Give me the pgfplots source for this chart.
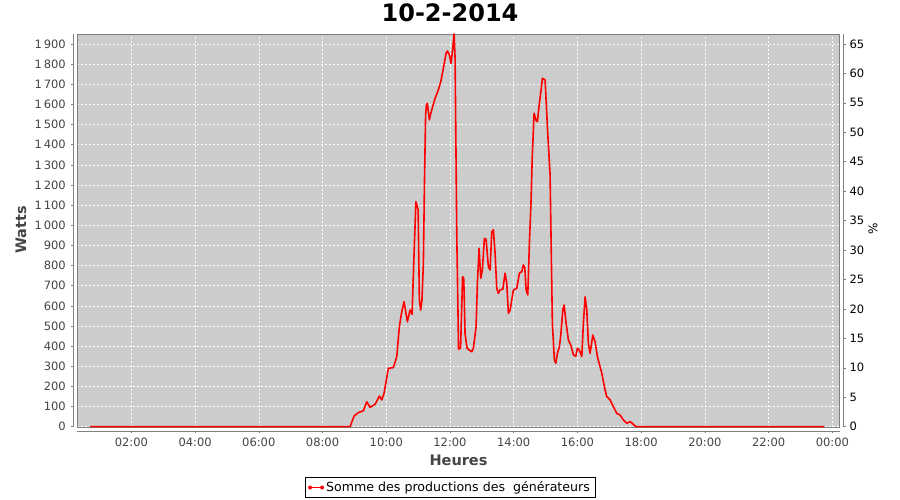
\documentclass[border=0pt]{standalone}
\usepackage{pgfplots}
\pgfplotsset{compat=1.18}
\usepackage{fontspec}
\setmainfont{DejaVu Sans}
\definecolor{plotbg}{RGB}{204,204,204}
\definecolor{axisgray}{RGB}{128,128,128}
\definecolor{ticklab}{RGB}{68,68,68}
\newcommand{\tickfont}{\fontsize{11.5}{12}\selectfont}
\newcommand{\legfont}{\fontsize{12.6}{14}\selectfont}

\begin{document}
\begin{tikzpicture}[x=1pt,y=1pt]
\useasboundingbox (0,0) rectangle (900,500);
\begin{axis}[
  at={(77.3pt,72.7pt)}, anchor=south west,
  scale only axis, width=762.4pt, height=393.3pt,
  xmin=0.304, xmax=24.23, ymin=-3, ymax=1949.6,
  axis background/.style={fill=plotbg},
  axis line style={axisgray, line width=0.8pt},
  xtick={2,4,...,24},
  xticklabels={02:00,04:00,06:00,08:00,10:00,12:00,14:00,16:00,18:00,20:00,22:00,00:00},
  ytick={0,100,...,1900},
  xtick pos=bottom, ytick pos=left,
  grid=major,
  major grid style={white, line width=0.6pt, dash pattern=on 2pt off 2pt},
  tick align=outside, major tick length=2.5pt,
  xtick style={axisgray, line width=0.6pt, yshift=-3.7pt},
  ytick style={axisgray, line width=0.6pt, xshift=-4pt},
  xticklabel style={anchor=center, font=\tickfont, text=ticklab},
  xticklabel shift=12.2pt,
  yticklabel style={anchor=east, inner sep=0pt, font=\tickfont, text=ticklab},
  yticklabel shift=8.8pt,
  /pgf/number format/.cd, 1000 sep={\,}, assume math mode=true,
  /pgfplots/.cd,
  legend style={at={(0.4888,-0.153)}, anchor=center, draw=black, fill=white,
    font=\legfont, line width=0.6pt, inner xsep=3pt, inner ysep=2pt},
  legend cell align=left,
  legend image code/.code={
    \draw[red, line width=1.5pt] (0pt,0pt) -- (14pt,0pt);
    \fill[red] (1pt,0pt) circle (1.3pt);
    \fill[red] (13pt,0pt) circle (1.3pt);
  },
]
\addplot[red, line width=1.6pt, line join=round] coordinates {
(0.703,0) (8.864,0) (8.99,53) (9.124,70) (9.281,79) (9.388,124) (9.492,96)
(9.649,111) (9.784,152) (9.859,133) (9.931,166) (10.066,290) (10.223,293)
(10.330,348) (10.411,497) (10.487,571) (10.559,621) (10.662,521) (10.747,579)
(10.810,558) (10.873,861) (10.93,1117) (10.96,1100) (11.00,1076) (11.039,629)
(11.08,579) (11.12,629) (11.165,811) (11.20,1225) (11.235,1548) (11.26,1597)
(11.29,1605) (11.353,1523) (11.397,1556) (11.532,1630) (11.635,1672)
(11.711,1713) (11.792,1779) (11.877,1854) (11.918,1865) (11.981,1846)
(12.034,1804) (12.087,1879) (12.128,1950) (12.160,1829) (12.213,952)
(12.269,385) (12.332,390) (12.395,745) (12.432,735) (12.473,460) (12.536,389)
(12.630,378) (12.684,372) (12.734,389) (12.819,497) (12.860,712) (12.913,886)
(12.966,737) (13.016,778) (13.079,935) (13.132,930) (13.205,794) (13.258,778)
(13.311,968) (13.362,977) (13.415,861) (13.468,687) (13.518,662) (13.572,680)
(13.657,682) (13.729,762) (13.782,712) (13.833,563) (13.886,579) (13.939,629)
(13.990,679) (14.096,687) (14.178,762) (14.253,770) (14.303,803) (14.347,790)
(14.388,679) (14.441,654) (14.492,911) (14.545,1126) (14.58,1333) (14.639,1556)
(14.702,1521) (14.743,1514) (14.805,1606) (14.859,1672) (14.900,1730)
(14.985,1721) (15.057,1489) (15.141,1250) (15.213,513) (15.276,331)
(15.320,315) (15.370,364) (15.433,397) (15.477,455) (15.540,579) (15.581,604)
(15.644,513) (15.716,430) (15.791,406) (15.873,356) (15.948,350) (15.998,389)
(16.061,380) (16.136,348) (16.186,513) (16.240,645) (16.293,579) (16.343,414)
(16.397,364) (16.481,455) (16.554,422) (16.626,348) (16.764,265) (16.868,182)
(16.921,149) (17.024,133) (17.128,99) (17.235,66) (17.338,58) (17.442,33)
(17.549,17) (17.652,25) (17.756,12) (17.810,3) (17.85,0) (23.75,0)
};
\addlegendentry{Somme des productions des\ \ générateurs}
\end{axis}
\begin{axis}[
  at={(77.3pt,72.7pt)}, anchor=south west,
  scale only axis, width=762.4pt, height=393.3pt,
  xmin=0.304, xmax=24.23, ymin=-0.1026, ymax=66.697,
  hide x axis,
  axis y line*=right,
  axis line style={draw=none},
  ytick={0,5,...,65},
  tick align=outside, major tick length=2.5pt,
  ytick style={axisgray, line width=0.6pt, xshift=4pt},
  yticklabel style={anchor=west, inner sep=0pt, font=\tickfont, text=black},
  yticklabel shift=7.1pt,
  /pgf/number format/assume math mode=true,
]
\addplot[draw=none] coordinates {(1,0) (2,1)};
\end{axis}
\draw[axisgray, line width=0.8pt] (73.3,72.7) -- (73.3,466);
\draw[axisgray, line width=0.8pt] (77.3,69) -- (839.7,69);
\draw[axisgray, line width=0.8pt] (843.3,72.7) -- (843.3,466);
\node[font=\fontsize{24}{28}\selectfont\bfseries] at (450,487) {10-2-2014};
\node[font=\fontsize{14.5}{16}\selectfont\bfseries, text=ticklab, rotate=90] at (21,270) {Watts};
\node[font=\fontsize{14.5}{16}\selectfont\bfseries, text=ticklab] at (458.5,40) {Heures};
\node[font=\fontsize{12}{14}\selectfont, rotate=90] at (873,271) {\%};
\end{tikzpicture}
\end{document}
